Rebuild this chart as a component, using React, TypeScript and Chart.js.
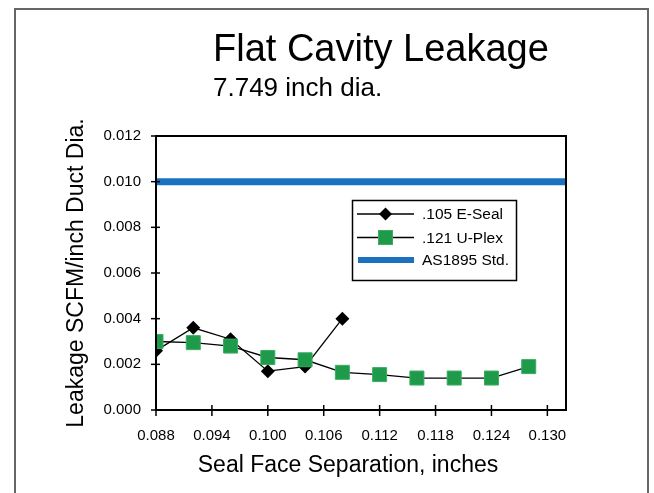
import React, { useEffect, useRef } from 'react';
import { Chart, registerables } from 'chart.js';

Chart.register(...registerables);

// ---- data ----
const sealX = [0.088, 0.092, 0.096, 0.1, 0.104, 0.108];
const sealY = [0.0026, 0.0036, 0.0031, 0.0017, 0.0019, 0.004];
const plexX = [0.088, 0.092, 0.096, 0.1, 0.104, 0.108, 0.112, 0.116, 0.12, 0.124, 0.128];
const plexY = [0.003, 0.00295, 0.0028, 0.0023, 0.0022, 0.00165, 0.00155, 0.0014, 0.0014, 0.0014, 0.0019];
const stdX = [0.088, 0.132];
const stdY = [0.01, 0.01];
const xTicks = [0.088, 0.094, 0.1, 0.106, 0.112, 0.118, 0.124, 0.13];
const yTicks = [0, 0.002, 0.004, 0.006, 0.008, 0.01, 0.012];
const seriesNames = ['.105 E-Seal', '.121 U-Plex', 'AS1895 Std.'];
const titleText = 'Flat Cavity Leakage';
const subtitleText = '7.749 inch dia.';
const xTitle = 'Seal Face Separation, inches';
const yTitle = 'Leakage SCFM/inch Duct Dia.';

const FONT = '"Liberation Sans", Arial, sans-serif';
const GREEN = '#1f9a4a';
const GREEN_EDGE = '#3aad62';
const BLUE = '#1b70c0';

function diamond(ctx: CanvasRenderingContext2D, x: number, y: number, r: number) {
  ctx.beginPath();
  ctx.moveTo(x - r, y);
  ctx.lineTo(x, y - r);
  ctx.lineTo(x + r, y);
  ctx.lineTo(x, y + r);
  ctx.closePath();
  ctx.fillStyle = '#000';
  ctx.fill();
}

const decor = {
  id: 'decor',
  afterDraw(chart: any) {
    const ctx: CanvasRenderingContext2D = chart.ctx;
    const { left, right, top, bottom } = chart.chartArea;
    const xs = chart.scales.x;
    const ys = chart.scales.y;
    ctx.save();
    // plot frame
    ctx.strokeStyle = '#000';
    ctx.lineWidth = 2;
    ctx.strokeRect(left, top, right - left, bottom - top);
    // tick crosses
    ctx.lineWidth = 1.5;
    yTicks.forEach((v) => {
      const py = ys.getPixelForValue(v);
      ctx.beginPath();
      ctx.moveTo(left - 5, py);
      ctx.lineTo(left + 4, py);
      ctx.stroke();
    });
    xTicks.forEach((v) => {
      const px = xs.getPixelForValue(v);
      ctx.beginPath();
      ctx.moveTo(px, bottom - 5);
      ctx.lineTo(px, bottom + 6);
      ctx.stroke();
    });
    // titles
    ctx.fillStyle = '#000';
    ctx.textAlign = 'left';
    ctx.textBaseline = 'alphabetic';
    ctx.font = `38px ${FONT}`;
    ctx.fillText(titleText, 213, 61);
    ctx.font = `26px ${FONT}`;
    ctx.fillText(subtitleText, 213, 96);
    // axis titles
    ctx.font = `23px ${FONT}`;
    ctx.textAlign = 'center';
    ctx.fillText(xTitle, 348, 472);
    ctx.save();
    ctx.translate(83, 273);
    ctx.rotate(-Math.PI / 2);
    ctx.fillText(yTitle, 0, 0);
    ctx.restore();
    // legend
    const bx = 352.5, by = 200.5, bw = 164, bh = 80;
    ctx.fillStyle = '#fff';
    ctx.fillRect(bx, by, bw, bh);
    ctx.strokeStyle = '#000';
    ctx.lineWidth = 1.5;
    ctx.strokeRect(bx, by, bw, bh);
    const rows = [214, 237.5, 260];
    const lx0 = 357, lx1 = 414, mx = 385.5;
    // row 1
    ctx.lineWidth = 1.5;
    ctx.beginPath();
    ctx.moveTo(lx0, rows[0]);
    ctx.lineTo(lx1, rows[0]);
    ctx.stroke();
    diamond(ctx, mx, rows[0], 6.5);
    // row 2
    ctx.beginPath();
    ctx.moveTo(lx0, rows[1]);
    ctx.lineTo(lx1, rows[1]);
    ctx.stroke();
    ctx.fillStyle = GREEN;
    ctx.fillRect(mx - 7, rows[1] - 7, 14, 14);
    ctx.strokeStyle = GREEN_EDGE;
    ctx.lineWidth = 1;
    ctx.strokeRect(mx - 7, rows[1] - 7, 14, 14);
    // row 3
    ctx.strokeStyle = BLUE;
    ctx.lineWidth = 6;
    ctx.beginPath();
    ctx.moveTo(lx0 + 1, rows[2]);
    ctx.lineTo(lx1, rows[2]);
    ctx.stroke();
    ctx.fillStyle = '#000';
    ctx.font = `15.5px ${FONT}`;
    ctx.textAlign = 'left';
    ctx.textBaseline = 'middle';
    seriesNames.forEach((n, i) => ctx.fillText(n, 422, rows[i] + 1));
    // outer border
    ctx.strokeStyle = '#666';
    ctx.lineWidth = 2;
    ctx.beginPath();
    ctx.moveTo(15, 493);
    ctx.lineTo(15, 9);
    ctx.lineTo(648, 9);
    ctx.lineTo(648, 493);
    ctx.stroke();
    ctx.restore();
  },
};

export default function App() {
  const ref = useRef<HTMLCanvasElement | null>(null);
  useEffect(() => {
    if (!ref.current) return;
    const chart = new Chart(ref.current, {
      type: 'line',
      data: {
        datasets: [
          {
            label: seriesNames[0],
            data: sealX.map((x, i) => ({ x, y: sealY[i] })),
            borderColor: '#000',
            borderWidth: 1.3,
            pointStyle: 'rectRot',
            pointRadius: 7,
            pointBackgroundColor: '#000',
            pointBorderColor: '#000',
            pointBorderWidth: 0,
            order: 2,
          },
          {
            label: seriesNames[1],
            data: plexX.map((x, i) => ({ x, y: plexY[i] })),
            borderColor: '#000',
            borderWidth: 1.3,
            pointStyle: 'rect',
            pointRadius: 9.9,
            pointBackgroundColor: GREEN,
            pointBorderColor: GREEN_EDGE,
            pointBorderWidth: 1,
            order: 1,
          },
          {
            label: seriesNames[2],
            data: stdX.map((x, i) => ({ x, y: stdY[i] })),
            borderColor: BLUE,
            borderWidth: 7,
            pointRadius: 0,
            order: 3,
          },
        ],
      } as any,
      options: {
        animation: false,
        responsive: false,
        layout: { padding: { top: 136, right: 88, left: 0, bottom: 0 } },
        plugins: { legend: { display: false }, title: { display: false }, tooltip: { enabled: false } },
        scales: {
          x: {
            type: 'linear',
            min: 0.088,
            max: 0.132,
            afterBuildTicks: (s: any) => {
              s.ticks = xTicks.map((v) => ({ value: v }));
            },
            afterFit: (s: any) => {
              s.height = 83;
            },
            grid: { display: false },
            border: { display: false },
            ticks: {
              padding: 9,
              color: '#000',
              font: { family: FONT, size: 15 },
              maxRotation: 0,
              autoSkip: false,
              callback: (v: any) => Number(v).toFixed(3),
            },
          },
          y: {
            type: 'linear',
            min: 0,
            max: 0.012,
            afterBuildTicks: (s: any) => {
              s.ticks = yTicks.map((v) => ({ value: v }));
            },
            afterFit: (s: any) => {
              s.width = 156;
            },
            grid: { display: false },
            border: { display: false },
            ticks: {
              padding: 7,
              color: '#000',
              font: { family: FONT, size: 15 },
              autoSkip: false,
              callback: (v: any) => Number(v).toFixed(3),
            },
          },
        },
      } as any,
      plugins: [decor],
    });
    return () => chart.destroy();
  }, []);
  return (
    <div style={{ position: 'fixed', left: 0, top: 0, width: 654, height: 493, background: '#fff' }}>
      <canvas ref={ref} width={654} height={493} style={{ display: 'block' }} />
    </div>
  );
}
